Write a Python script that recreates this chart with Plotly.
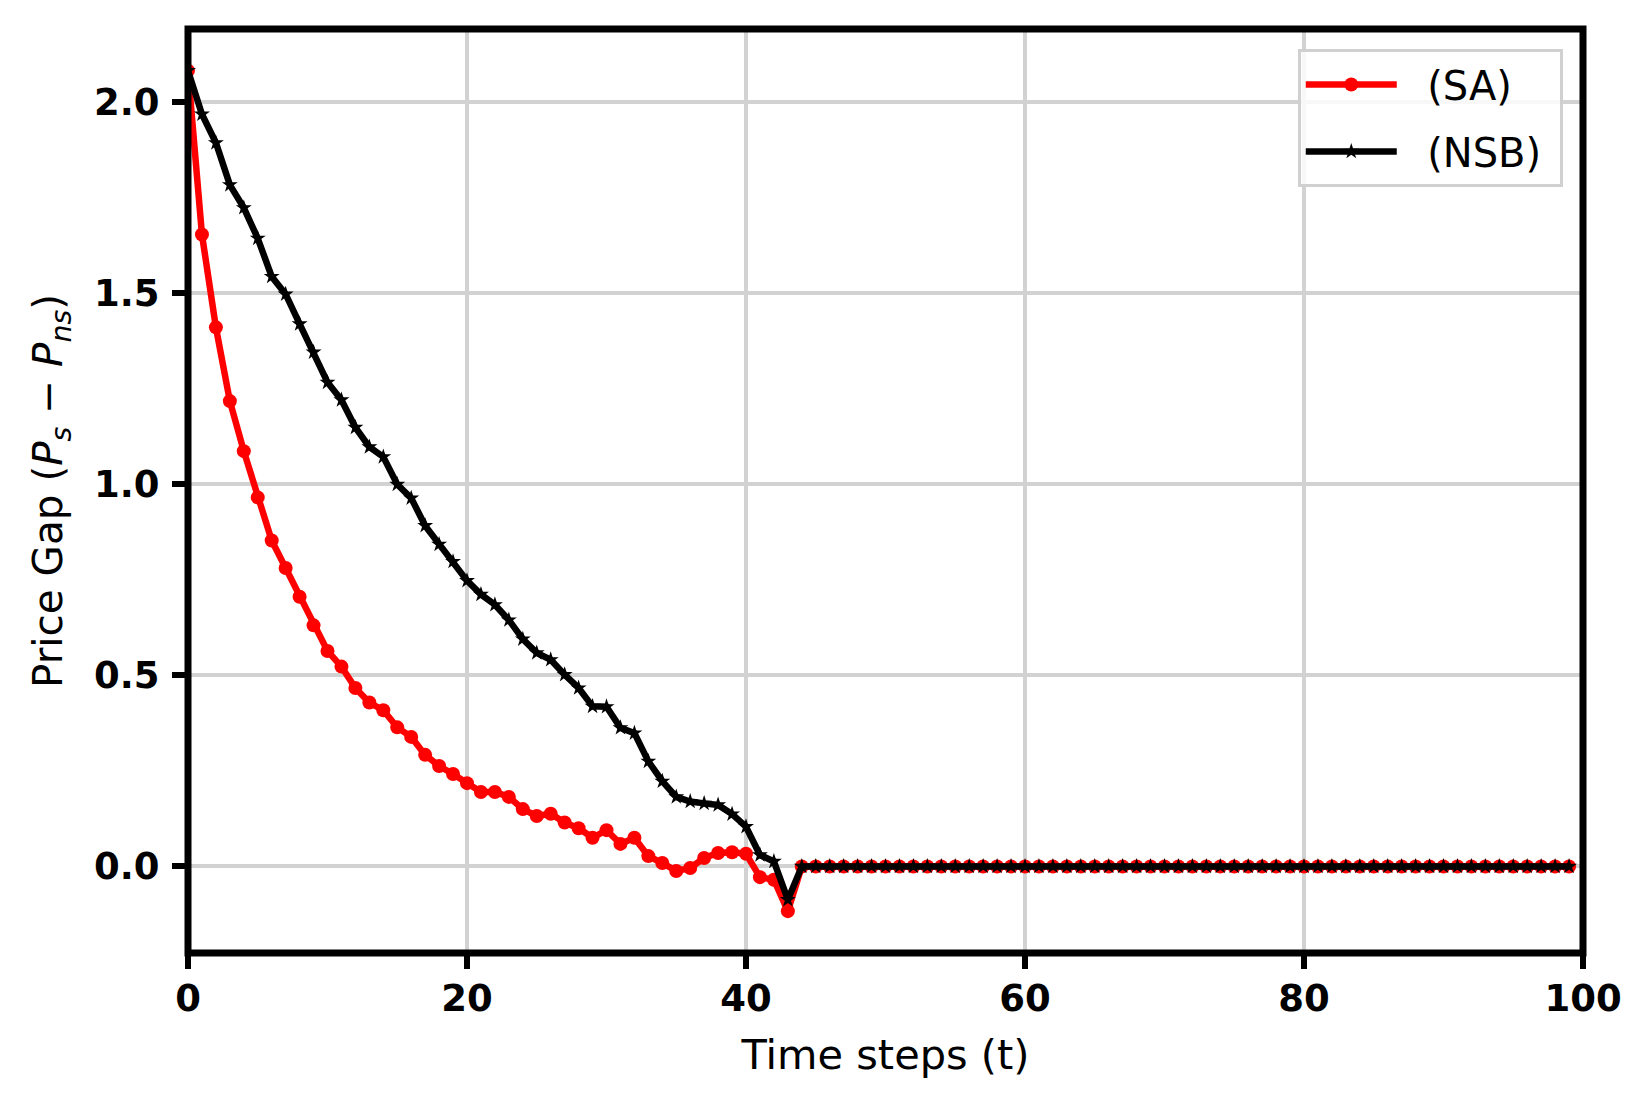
import plotly.graph_objects as go

# ---- data ----
time_steps = list(range(100))

sa_values = [
    2.083, 1.654, 1.411, 1.218, 1.087, 0.966, 0.853, 0.781, 0.706, 0.631,
    0.564, 0.523, 0.467, 0.429, 0.409, 0.364, 0.339, 0.292, 0.263, 0.242,
    0.218, 0.195, 0.195, 0.182, 0.150, 0.132, 0.138, 0.115, 0.100, 0.075,
    0.095, 0.059, 0.075, 0.027, 0.009, -0.012, -0.004, 0.022, 0.035, 0.037,
    0.033, -0.028, -0.035, -0.117, 0.0, 0.0, 0.0, 0.0, 0.0, 0.0,
    0.0, 0.0, 0.0, 0.0, 0.0, 0.0, 0.0, 0.0, 0.0, 0.0,
    0.0, 0.0, 0.0, 0.0, 0.0, 0.0, 0.0, 0.0, 0.0, 0.0,
    0.0, 0.0, 0.0, 0.0, 0.0, 0.0, 0.0, 0.0, 0.0, 0.0,
    0.0, 0.0, 0.0, 0.0, 0.0, 0.0, 0.0, 0.0, 0.0, 0.0,
    0.0, 0.0, 0.0, 0.0, 0.0, 0.0, 0.0, 0.0, 0.0, 0.0,
]

nsb_values = [
    2.083, 1.969, 1.894, 1.784, 1.724, 1.644, 1.544, 1.498, 1.420, 1.346,
    1.267, 1.221, 1.149, 1.098, 1.072, 1.000, 0.964, 0.892, 0.843, 0.798,
    0.748, 0.712, 0.685, 0.645, 0.595, 0.559, 0.541, 0.502, 0.467, 0.419,
    0.418, 0.363, 0.349, 0.275, 0.223, 0.182, 0.170, 0.165, 0.161, 0.137,
    0.104, 0.030, 0.013, -0.087, 0.0, 0.0, 0.0, 0.0, 0.0, 0.0,
    0.0, 0.0, 0.0, 0.0, 0.0, 0.0, 0.0, 0.0, 0.0, 0.0,
    0.0, 0.0, 0.0, 0.0, 0.0, 0.0, 0.0, 0.0, 0.0, 0.0,
    0.0, 0.0, 0.0, 0.0, 0.0, 0.0, 0.0, 0.0, 0.0, 0.0,
    0.0, 0.0, 0.0, 0.0, 0.0, 0.0, 0.0, 0.0, 0.0, 0.0,
    0.0, 0.0, 0.0, 0.0, 0.0, 0.0, 0.0, 0.0, 0.0, 0.0,
]

series_names = ["(SA)", "(NSB)"]
x_ticks = [0, 20, 40, 60, 80, 100]
y_ticks = [0.0, 0.5, 1.0, 1.5, 2.0]
y_tick_labels = ["0.0", "0.5", "1.0", "1.5", "2.0"]

FONT = "DejaVu Sans"
NBSP = "\u00a0"

fig = go.Figure()
fig.add_trace(go.Scatter(
    x=time_steps, y=sa_values, name=NBSP * 2 + series_names[0] + NBSP, mode="lines+markers",
    legendgroup="sa",
    line=dict(color="#ff0000", width=6.5),
    marker=dict(symbol="circle", size=14, color="#ff0000"),
))
fig.add_trace(go.Scatter(
    x=time_steps, y=nsb_values, name=NBSP * 2 + series_names[1] + NBSP, mode="lines+markers",
    legendgroup="nsb",
    line=dict(color="#000000", width=6.5),
    marker=dict(symbol="star", size=12, color="#000000"),
))

axis_common = dict(
    showline=False,
    ticks="outside", ticklen=15, tickwidth=6, tickcolor="black",
    showgrid=True, gridcolor="#d2d2d2", gridwidth=4,
    zeroline=False,
    tickfont=dict(family=FONT, size=37, color="black", weight="bold"),
)

fig.update_xaxes(
    range=[0, 100], tickvals=x_ticks, ticktext=[str(v) for v in x_ticks],
    ticklabelstandoff=-2,
    title=dict(text="Time steps (t)", font=dict(family=FONT, size=41.5, color="black"), standoff=20),
    **axis_common,
)
fig.update_yaxes(
    range=[-0.2266, 2.192], tickvals=y_ticks, ticktext=y_tick_labels,
    ticklabelstandoff=5,
    title=dict(text="Price Gap (<i>P<sub>s</sub></i> \u2212 <i>P<sub>ns</sub></i>)",
               font=dict(family=FONT, size=40.5, color="black"), standoff=18),
    **axis_common,
)

# axes frame (spines), centred on the plot-area edges and drawn above the data
fig.add_shape(type="rect", xref="paper", yref="paper", x0=0, y0=0, x1=1, y1=1,
              line=dict(color="black", width=7), fillcolor="rgba(0,0,0,0)", layer="above")

# page body has an 8px default margin, so the figure is 8px smaller and shifted
fig.update_layout(
    width=1644, height=1099,
    margin=dict(l=180.3, r=68.7, t=21, b=153.7),
    paper_bgcolor="white", plot_bgcolor="white",
    font=dict(family=FONT, color="black"),
    showlegend=True,
    legend=dict(
        x=0.9855, y=0.9784, xanchor="right", yanchor="top",
        bgcolor="rgba(255,255,255,0.85)", bordercolor="#d0d0d0", borderwidth=3,
        font=dict(family=FONT, size=40, color="black"),
        itemwidth=91, tracegroupgap=12,
    ),
)

fig.write_html("out.html")
